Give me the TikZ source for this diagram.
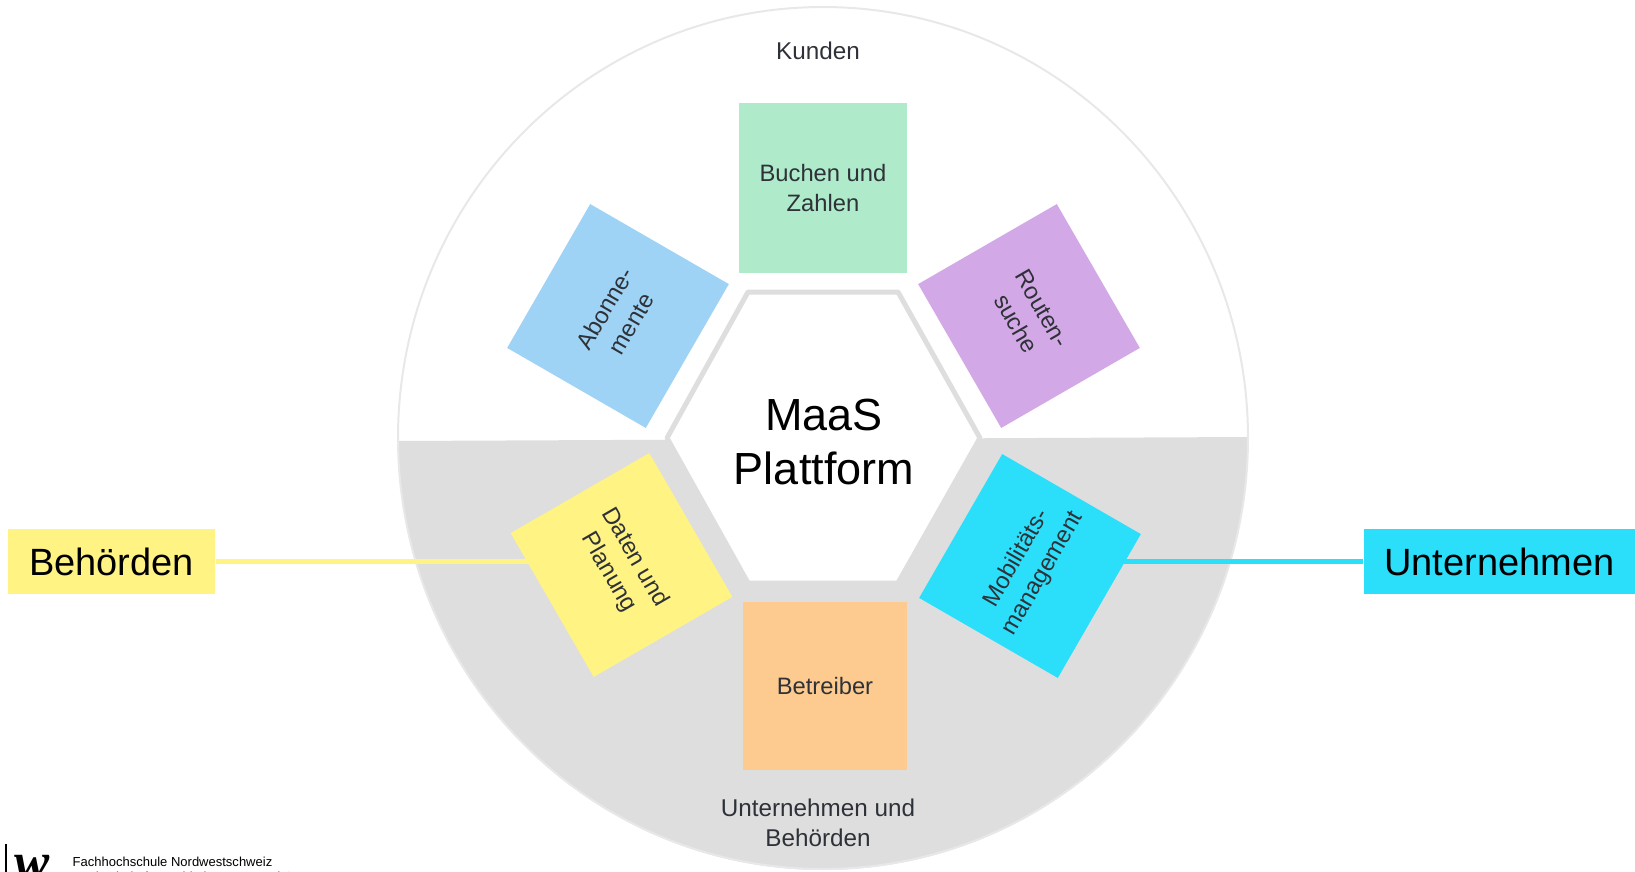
\documentclass[tikz,border=0pt]{standalone}
\usepackage{fontspec}
\setmainfont{Liberation Sans}
\newfontfamily\logofont{Liberation Serif}
\definecolor{ringgray}{HTML}{E8E8E8}
\definecolor{sectorgray}{HTML}{DEDEDE}
\definecolor{buchengreen}{HTML}{AFEACB}
\definecolor{routenlila}{HTML}{D3A8E6}
\definecolor{abopblue}{HTML}{9FD3F5}
\definecolor{datenyellow}{HTML}{FFF383}
\definecolor{mobilcyan}{HTML}{2BDFFB}
\definecolor{betrorange}{HTML}{FDCB90}
\definecolor{textdark}{HTML}{2E3238}
\pgfdeclarelayer{sector}
\pgfdeclarelayer{links}
\pgfsetlayers{sector,links,main}
\tikzset{
	tile/.style={rectangle,minimum width=1.66cm,minimum height=1.60cm,inner sep=0pt,align=center,text=textdark,font=\fontsize{6.75}{8.6}\selectfont},
	tag/.style={rectangle,minimum height=0.65cm,inner sep=0pt,font=\fontsize{10.8}{12}\selectfont},
	ringlabel/.style={align=center,text=textdark,font=\fontsize{6.9}{8.6}\selectfont}
}
\begin{document}
\begin{tikzpicture}[x=0.01cm,y=-0.01cm]
	\useasboundingbox (0,0) rectangle (1635,872);
	% disc, lower half grey
	\begin{pgfonlayer}{sector}
		\fill[sectorgray,rotate around={0.27:(823,439)}] (398,439) arc[start angle=180,end angle=360,x radius=425,y radius=-431] -- cycle;
		\draw[ringgray,line width=0.2mm] (823,438) ellipse [x radius=425,y radius=431];
	\end{pgfonlayer}
	% hexagon in the middle
	\draw[sectorgray,line width=0.5mm,fill=white,line join=round] (667,438) -- (748,292) -- (898,292) -- (980,438) -- (898,583) -- (748,583) -- cycle;
	\node at (824,442) [align=center,text=black,font=\fontsize{12.8}{15.4}\selectfont] (maas) {MaaS\\Plattform};
	% tiles
	\node at (823,188) [tile,fill=buchengreen,minimum width=1.68cm,minimum height=1.70cm] (buchen) {Buchen und\\Zahlen};
	\node at (1029,316) [tile,fill=routenlila,rotate=-60] (routen) {Routen-\\suche};
	\node at (618,316) [tile,fill=abopblue,rotate=60] (abo) {Abonne-\\mente};
	\node at (621.5,565) [tile,fill=datenyellow,rotate=-60] (daten) {Daten und\\Planung};
	\node at (1030,566) [tile,fill=mobilcyan,rotate=60] (mobil) {Mobilitäts-\\management};
	\node at (825,686) [tile,fill=betrorange,minimum width=1.64cm,minimum height=1.68cm] (betreiber) {Betreiber};
	\node at (818,51) [ringlabel] (kunden) {Kunden};
	\node at (818,823) [ringlabel] (behunt) {Unternehmen und\\Behörden};
	% the two tags left and right
	\node at (111.5,561.5) [tag,fill=datenyellow,minimum width=2.07cm] (behoerden) {Behörden};
	\node at (1499.5,561.5) [tag,fill=mobilcyan,minimum width=2.71cm] (unternehmen) {Unternehmen};
	\begin{pgfonlayer}{links}
		\draw[datenyellow,line width=0.5mm] (behoerden) -- (behoerden -| daten);
		\draw[mobilcyan,line width=0.5mm] (unternehmen) -- (unternehmen -| mobil);
	\end{pgfonlayer}
	% logo, cut by the page
	\draw[black,line width=0.15mm] (6,844) -- (6,872);
	\node at (32,868) [font=\fontsize{15}{15}\selectfont\logofont\bfseries\itshape] (logo) {w};
	\node[right,inner sep=0pt] at (72,862) [font=\fontsize{3.7}{4.4}\selectfont] (fhnw) {Fachhochschule Nordwestschweiz};
	\node[right,inner sep=0pt] at (72,878) [font=\fontsize{3.7}{4.4}\selectfont] (hab) {Hochschule für Architektur, Bau und G};
\end{tikzpicture}
\end{document}
